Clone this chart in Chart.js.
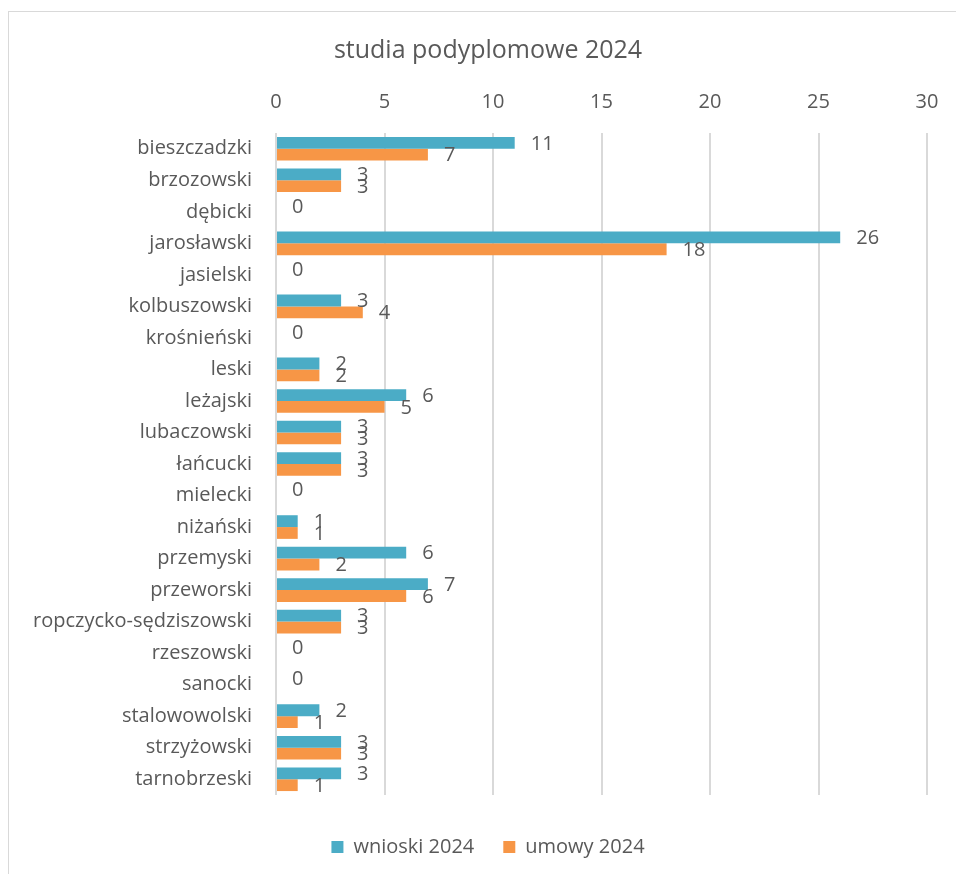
<!DOCTYPE html>
<html>
<head>
<meta charset="utf-8">
<script src="https://cdn.jsdelivr.net/npm/chart.js@4.4.1/dist/chart.umd.min.js"></script>
<style>
  html, body { margin: 0; padding: 0; background: #fff; overflow: hidden; width: 956px; height: 874px; }
  #frame { position: absolute; left: 8px; top: 11px; width: 1000px; height: 1000px; border: 1px solid #d9d9d9; }
  #chart { position: absolute; left: 0; top: 0; }
</style>
</head>
<body>
<div id="frame"></div>
<canvas id="chart" width="976" height="867"></canvas>
<script>
const categories = [
  'bieszczadzki', 'brzozowski', 'dębicki', 'jarosławski', 'jasielski', 'kolbuszowski',
  'krośnieński', 'leski', 'leżajski', 'lubaczowski', 'łańcucki', 'mielecki', 'niżański',
  'przemyski', 'przeworski', 'ropczycko-sędziszowski', 'rzeszowski', 'sanocki',
  'stalowowolski', 'strzyżowski', 'tarnobrzeski'
];
const wnioski = [11, 3, 0, 26, 0, 3, 0, 2, 6, 3, 3, 0, 1, 6, 7, 3, 0, 0, 2, 3, 3];
const umowy   = [7, 3, 0, 18, 0, 4, 0, 2, 5, 3, 3, 0, 1, 2, 6, 3, 0, 0, 1, 3, 1];
const xTicks = [0, 5, 10, 15, 20, 25, 30];

const FONT = "'Open Sans', sans-serif";
const TEXT = '#595959';

// labels to the right of each bar, one "0" for empty rows
const barLabels = {
  id: 'barLabels',
  afterDatasetsDraw(chart) {
    const ctx = chart.ctx;
    ctx.save();
    ctx.font = `20px ${FONT}`;
    ctx.fillStyle = TEXT;
    ctx.textAlign = 'left';
    ctx.textBaseline = 'middle';
    chart.data.datasets.forEach((ds, di) => {
      chart.getDatasetMeta(di).data.forEach((bar, i) => {
        const v = ds.data[i];
        if (v === 0 && di === 1) return;
        ctx.fillText(String(v), bar.x + 16, bar.y + 1);
      });
    });
    ctx.restore();
  }
};

new Chart(document.getElementById('chart'), {
  type: 'bar',
  data: {
    labels: categories,
    datasets: [
      { label: 'wnioski 2024', data: wnioski, backgroundColor: '#4bacc6', categoryPercentage: 0.75, barPercentage: 1 },
      { label: 'umowy 2024', data: umowy, backgroundColor: '#f79646', categoryPercentage: 0.75, barPercentage: 1 }
    ]
  },
  options: {
    indexAxis: 'y',
    responsive: false,
    animation: false,
    layout: { padding: 0 },
    scales: {
      x: {
        position: 'top',
        min: 0, max: 30,
        afterBuildTicks: s => { s.ticks = xTicks.map(v => ({ value: v })); },
        ticks: { color: TEXT, font: { family: FONT, size: 20 }, padding: 19 },
        grid: { color: '#d9d9d9', lineWidth: 2, drawTicks: false },
        border: { display: false },
        afterFit: s => { s.height = 57; }
      },
      x2: {
        position: 'bottom', display: true,
        ticks: { display: false }, grid: { display: false }, border: { display: false },
        afterFit: s => { s.height = 13; }
      },
      y: {
        ticks: { color: TEXT, font: { family: FONT, size: 20 }, padding: 24 },
        grid: { display: false, drawTicks: false },
        border: { display: false },
        afterFit: s => { s.width = 276; }
      },
      y2: {
        position: 'right', display: true,
        ticks: { display: false }, grid: { display: false }, border: { display: false },
        afterFit: s => { s.width = 49; }
      }
    },
    plugins: {
      title: {
        display: true,
        text: 'studia podyplomowe 2024',
        color: TEXT,
        font: { family: FONT, size: 25, weight: 'normal' },
        padding: { top: 36, bottom: 10 }
      },
      legend: {
        position: 'bottom',
        labels: { color: TEXT, font: { family: FONT, size: 20 }, boxWidth: 12, boxHeight: 12, padding: 29 }
      },
      tooltip: { enabled: false }
    }
  },
  plugins: [barLabels]
});
</script>
</body>
</html>
